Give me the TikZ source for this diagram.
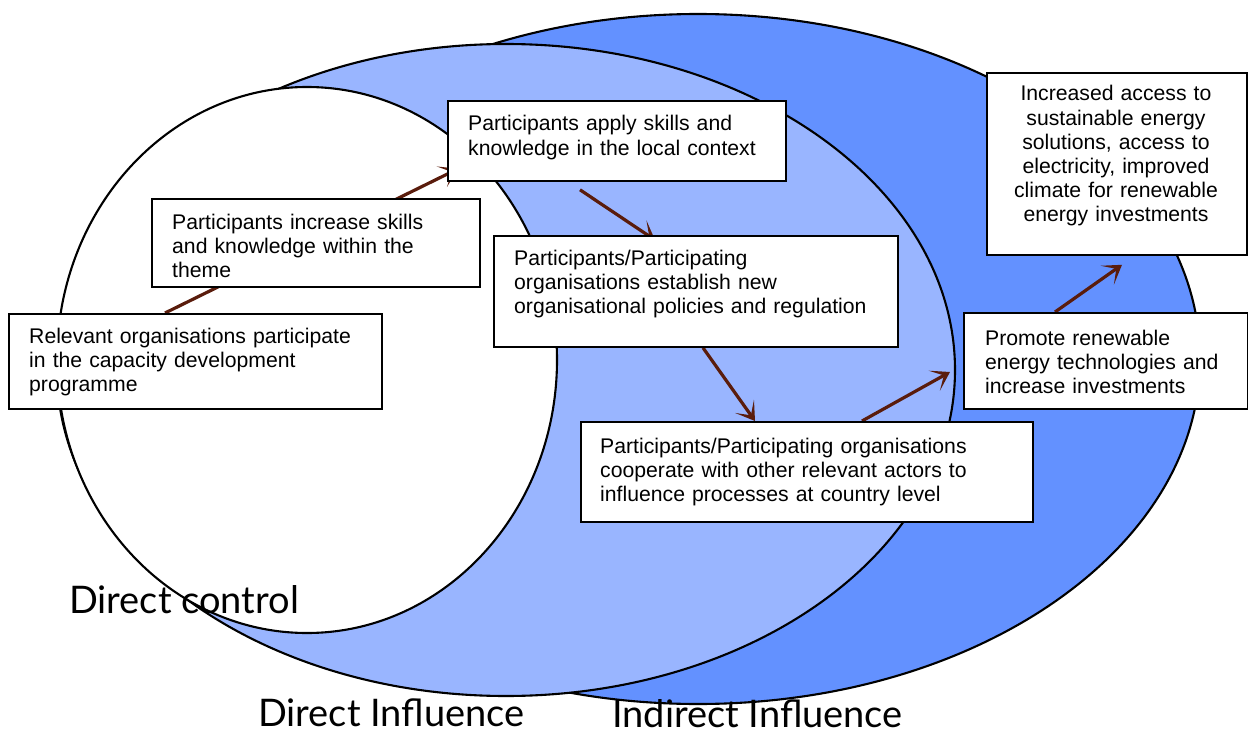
\documentclass[tikz,border=0pt]{standalone}
\usepackage{fontspec}
\setmainfont{Liberation Sans}
\newfontfamily\labelfont{Lato}
\usetikzlibrary{arrows.meta}
\definecolor{inflight}{HTML}{99B5FF}
\definecolor{infldark}{HTML}{6391FF}
\definecolor{arrowbrown}{HTML}{5A1C0C}
\pgfdeclarelayer{zones}
\pgfdeclarelayer{links}
\pgfsetlayers{zones,links,main}
\begin{document}
\begin{tikzpicture}[x=1pt,y=-1pt,
  zone/.style={draw=black, line width=2.1pt},
  box/.style={draw=black, line width=1.8pt, fill=white, rectangle, inner sep=0pt, anchor=north west},
  boxtext/.style={anchor=base west, inner sep=0pt, text width=#1, align=left,
    font=\fontsize{21.2}{24.2}\selectfont},
  flow/.style={draw=arrowbrown, line width=3.2pt,
    -{Stealth[length=18pt,width=23pt,inset=11pt]}},
  biglabel/.style={anchor=base west, inner sep=0pt, text depth=0pt,
    font=\labelfont\fontsize{38}{42}\selectfont}
]
\useasboundingbox (0,0) rectangle (1248,733);

% spheres of control and influence
\begin{pgfonlayer}{zones}
\draw[zone, fill=infldark] (698,359) ellipse [x radius=502pt, y radius=345pt];
\draw[zone, fill=inflight] (506,370) ellipse [x radius=449pt, y radius=326pt];
\draw[zone, fill=white] (307,360) ellipse [x radius=250pt, y radius=273pt];
\end{pgfonlayer}

% result boxes
\node[box, minimum width=373pt, minimum height=95pt] (b1) at (8,313) {};
\node[box, minimum width=328pt, minimum height=88pt] (b2) at (151,198) {};
\node[box, minimum width=338pt, minimum height=80pt] (b3) at (447,100) {};
\node[box, minimum width=404pt, minimum height=111pt] (b4) at (493,235) {};
\node[box, minimum width=452pt, minimum height=100pt] (b5) at (580,421) {};
\node[box, minimum width=284pt, minimum height=96pt] (b6) at (963,312) {};
\node[box, minimum width=260pt, minimum height=182pt] (b7) at (986,72) {};

% box texts
\node[boxtext=350pt] (t1) at (29,343) {Relevant organisations participate\\in the capacity development\\programme};
\node[boxtext=300pt] (t2) at (172,229) {Participants increase skills\\and knowledge within the\\theme};
\node[boxtext=310pt] (t3) at (468,131) {Participants apply skills and\\knowledge in the local context};
\node[boxtext=380pt] (t4) at (514,265) {Participants/Participating\\organisations establish new\\organisational policies and regulation};
\node[boxtext=430pt] (t5) at (600,453) {Participants/Participating organisations\\cooperate with other relevant actors to\\influence processes at country level};
\node[boxtext=260pt] (t6) at (985,345) {Promote renewable\\energy technologies and\\increase investments};
\node[anchor=base, inner sep=0pt, text width=250pt, align=center,
  font=\fontsize{21.2}{24.2}\selectfont] (t7) at (1116,101)
  {Increased access to\\sustainable energy\\solutions, access to\\electricity, improved\\climate for renewable\\energy investments};

% connector end points
\coordinate (a1s) at ([xshift=157pt]b1.north west);
\coordinate (a1e) at ([xshift=11pt,yshift=13pt]b3.south west);
\coordinate (a2s) at ([xshift=133pt,yshift=-8pt]b3.south west);
\coordinate (a2e) at ([xshift=162pt,yshift=-5pt]b4.north west);
\coordinate (a3s) at ([xshift=210pt]b4.south west);
\coordinate (a3e) at ([xshift=175pt]b5.north west);
\coordinate (a4s) at ([xshift=282pt]b5.north west);
\coordinate (a4e) at ([xshift=-13pt,yshift=-60pt]b6.north west);
\coordinate (a5s) at ([xshift=92pt]b6.north west);
\coordinate (a5e) at ([xshift=136pt,yshift=-9pt]b7.south west);

% causal chain, passing behind the boxes
\begin{pgfonlayer}{links}
\draw[flow] (a1s) -- (a1e);
\draw[flow] (a2s) -- (a2e);
\draw[flow] (a3s) -- (a3e);
\draw[flow] (a4s) -- (a4e);
\draw[flow] (a5s) -- (a5e);
\end{pgfonlayer}

% zone labels
\node[biglabel] (ldc) at (69,613) {Direct control};
\node[biglabel] (ldi) at (258,726) {Direct Influence};
\node[biglabel] (lii) at (612,727) {Indirect Influence};
\end{tikzpicture}
\end{document}
